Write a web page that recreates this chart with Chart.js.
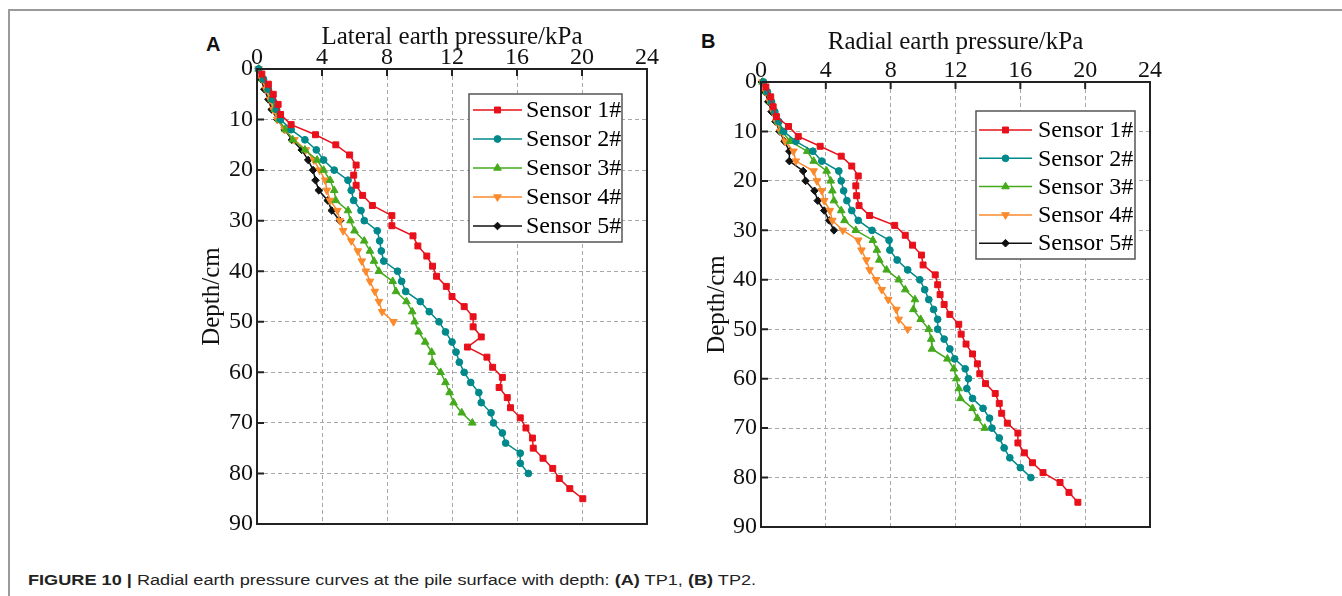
<!DOCTYPE html>
<html>
<head>
<meta charset="utf-8">
<script src="https://cdn.jsdelivr.net/npm/chart.js@4.4.1/dist/chart.umd.min.js"></script>
<style>
    body { margin: 0; background: #fff; width: 1342px; height: 596px; overflow: hidden; position: relative; }
    .frameTop { position: absolute; left: 8px; top: 9px; width: 1334px; border-top: 2px solid #9a9a9a; }
    .frameLeft { position: absolute; left: 8px; top: 9px; height: 587px; border-left: 2px solid #9a9a9a; }
    canvas { position: absolute; top: 0; }
    #chartA { left: 150px; }
    #chartB { left: 660px; }
    .letter { position: absolute; font: bold 20px "Liberation Sans", Arial, sans-serif; color: #111; }
    #caption { position: absolute; left: 28px; top: 571px; font: 15.5px "Liberation Sans", Arial, sans-serif; color: #222; white-space: nowrap; transform: scaleX(1.17); transform-origin: left top; }
</style>
</head>
<body>
<div class="frameTop"></div>
<div class="frameLeft"></div>
<div class="letter" style="left:206px; top:33px;">A</div>
<div class="letter" style="left:701px; top:30px;">B</div>
<canvas id="chartA" width="520" height="560"></canvas>
<canvas id="chartB" width="520" height="560"></canvas>
<div id="caption"><b>FIGURE 10 |</b> Radial earth pressure curves at the pile surface with depth: <b>(A)</b> TP1, <b>(B)</b> TP2.</div>

<script>
//Series labels
const sensorLabels = ['Sensor 1#', 'Sensor 2#', 'Sensor 3#', 'Sensor 4#', 'Sensor 5#'];

//Depth (cm) of the readings
const depthOdd85 = [1, 3, 5, 7, 9, 11, 13, 15, 17, 19, 21, 23, 25, 27, 29, 31, 33, 35, 37, 39,
    41, 43, 45, 47, 49, 51, 53, 55, 57, 59, 61, 63, 65, 67, 69, 71, 73, 75, 77, 79, 81, 83, 85];
const depth80 = [0, 2, 4, 6, 8, 10, 12, 14, 16, 18, 20, 22, 24, 26, 28, 30, 32, 34, 36, 38,
    40, 42, 44, 46, 48, 50, 52, 54, 56, 58, 60, 62, 64, 66, 68, 70, 72, 74, 76, 78, 80];
const depth70 = depth80.slice(0, 36);
const depth50 = depth80.slice(0, 26);
const depth30 = depth80.slice(0, 16);

//Panel A - lateral earth pressure (kPa)
const lateral1 = [0.3, 0.7, 1.0, 1.3, 1.45, 2.1, 3.6, 4.85, 5.7, 6.1, 5.95, 6.1, 6.5, 7.1, 8.3, 8.3, 9.6, 9.9, 10.45, 10.8,
    11.05, 11.65, 12.0, 12.75, 13.3, 13.3, 13.8, 12.95, 14.15, 14.5, 15.1, 14.9, 15.4, 15.6, 16.2, 16.55, 16.95, 17.0, 17.6, 18.2,
    18.6, 19.25, 20.05];
const lateral2 = [0.1, 0.4, 0.7, 0.95, 1.2, 1.45, 2.1, 2.95, 3.65, 4.1, 4.75, 5.6, 5.8, 5.95, 6.4, 6.6, 7.4, 7.55, 7.65, 7.8,
    8.65, 8.9, 9.15, 10.05, 10.6, 11.2, 11.6, 12.0, 12.25, 12.45, 12.75, 13.15, 13.65, 13.8, 14.4, 14.55, 15.1, 15.3, 16.2, 16.2,
    16.7];
const lateral3 = [0.1, 0.35, 0.65, 0.9, 1.1, 1.35, 1.75, 2.2, 2.95, 3.7, 4.1, 4.5, 4.75, 4.85, 5.6, 5.75, 6.0, 6.6, 6.95, 7.2,
    7.5, 8.35, 8.55, 9.2, 9.55, 9.7, 9.95, 10.35, 10.75, 10.8, 11.3, 11.6, 11.85, 12.1, 12.6, 13.25];
const lateral4 = [0.1, 0.3, 0.55, 0.8, 1.0, 1.25, 1.7, 2.3, 3.0, 3.5, 3.85, 4.2, 4.3, 4.5, 4.95, 5.1, 5.3, 5.8, 6.2, 6.45,
    6.7, 6.95, 7.25, 7.5, 7.7, 8.4];
const lateral5 = [0.1, 0.25, 0.45, 0.7, 0.9, 1.25, 1.7, 2.15, 2.75, 3.15, 3.45, 3.6, 3.8, 4.35, 4.6, 5.1];

//Panel B - radial earth pressure (kPa)
const radial1 = [0.3, 0.6, 0.75, 0.95, 1.7, 2.3, 3.65, 4.95, 5.6, 6.0, 5.85, 5.9, 6.05, 6.7, 8.25, 8.9, 9.35, 9.9, 10.0, 10.75,
    10.9, 11.05, 11.3, 11.65, 12.2, 12.35, 12.65, 13.05, 13.35, 13.5, 13.85, 14.45, 14.7, 14.85, 15.2, 15.85, 15.85, 16.25, 16.75, 17.4,
    18.45, 19.0, 19.55];
const radial2 = [0.15, 0.4, 0.65, 0.85, 1.1, 1.4, 2.15, 3.2, 3.75, 4.8, 4.95, 5.1, 5.3, 5.6, 6.0, 6.85, 7.9, 7.95, 8.4, 9.05,
    9.8, 10.1, 10.35, 10.65, 10.9, 10.9, 11.3, 11.65, 11.95, 12.6, 12.8, 12.7, 13.05, 13.7, 14.1, 14.25, 14.7, 15.0, 15.35, 16.0,
    16.65];
const radial3 = [0.1, 0.35, 0.6, 0.85, 1.05, 1.3, 1.8, 2.85, 3.25, 4.05, 4.3, 4.4, 4.5, 4.95, 5.15, 5.85, 6.9, 7.15, 7.3, 7.75,
    8.5, 8.9, 9.5, 9.4, 9.85, 10.35, 10.5, 10.55, 11.5, 11.9, 12.05, 12.2, 12.3, 13.05, 13.35, 13.8];
const radial4 = [0.1, 0.3, 0.55, 0.75, 0.95, 1.2, 1.5, 2.0, 2.15, 3.25, 3.45, 3.75, 3.9, 4.25, 4.4, 5.05, 6.0, 6.2, 6.5, 6.7,
    7.1, 7.45, 7.85, 8.35, 8.5, 9.05];
const radial5 = [0.05, 0.25, 0.45, 0.65, 0.9, 1.15, 1.45, 1.75, 1.75, 2.6, 2.75, 3.3, 3.5, 3.9, 4.2, 4.5];

//Axis ticks
const pressureTicks = [0, 4, 8, 12, 16, 20, 24];
const depthTicks = [0, 10, 20, 30, 40, 50, 60, 70, 80, 90];

//Marker look for each sensor
var sensorStyles = [
    { color: '#e8101a', pointStyle: 'rect', radius: 4.2, rotation: 0 },
    { color: '#00898b', pointStyle: 'circle', radius: 3.4, rotation: 0 },
    { color: '#44aa1c', pointStyle: 'triangle', radius: 4.4, rotation: 0 },
    { color: '#fb8a2c', pointStyle: 'triangle', radius: 4.4, rotation: 180 },
    { color: '#111111', pointStyle: 'rectRot', radius: 3.8, rotation: 0 }
];

Chart.defaults.font.family = '"Liberation Serif", "Times New Roman", serif';
Chart.defaults.color = '#111';

function toPoints (depth, pressure) {
    return depth.map(function (d, i) { return { x: pressure[i], y: d }; });
}

function buildDatasets (depths, values) {
    return values.map(function (v, i) {
        var s = sensorStyles[i];
        return {
            label: sensorLabels[i],
            data: toPoints(depths[i], v),
            borderColor: s.color,
            backgroundColor: s.color,
            pointBackgroundColor: s.color,
            pointBorderColor: s.color,
            pointStyle: s.pointStyle,
            pointRadius: s.radius,
            pointRotation: s.rotation,
            pointBorderWidth: 1,
            borderWidth: 1.5,
            fill: false,
            tension: 0,
            clip: false
        };
    });
}

//Inward tick marks and the closed plot frame
const frameTicks = {
    id: 'frameTicks',
    afterDatasetsDraw (chart) {
        const { ctx, chartArea: a, scales } = chart;
        ctx.save();
        ctx.strokeStyle = '#222';
        ctx.lineWidth = 2;
        ctx.beginPath();
        scales.x.ticks.forEach(function (t) {
            var px = scales.x.getPixelForValue(t.value);
            ctx.moveTo(px, a.top);
            ctx.lineTo(px, a.top + 7);
        });
        scales.y.ticks.forEach(function (t) {
            var py = scales.y.getPixelForValue(t.value);
            ctx.moveTo(a.left, py);
            ctx.lineTo(a.left + 7, py);
        });
        ctx.stroke();
        ctx.strokeRect(a.left, a.top, a.width, a.height);
        ctx.restore();
    }
};

//Legend box inside the plot
const insideLegend = {
    id: 'insideLegend',
    afterDraw (chart, args, o) {
        const ctx = chart.ctx;
        const a = chart.chartArea;
        const x0 = a.left + o.left;
        const y0 = a.top + o.top;
        ctx.save();
        ctx.fillStyle = '#fff';
        ctx.fillRect(x0, y0, o.width, o.height);
        ctx.strokeStyle = '#555';
        ctx.lineWidth = 1.5;
        ctx.strokeRect(x0, y0, o.width, o.height);
        ctx.font = '24px "Liberation Serif", serif';
        ctx.textBaseline = 'middle';
        chart.data.datasets.forEach(function (ds, i) {
            var y = y0 + o.firstRow + i * o.rowGap;
            ctx.strokeStyle = ds.borderColor;
            ctx.lineWidth = ds.borderWidth;
            ctx.beginPath();
            ctx.moveTo(x0 + o.lineStart, y);
            ctx.lineTo(x0 + o.lineEnd, y);
            ctx.stroke();
            ctx.fillStyle = ds.pointBackgroundColor;
            ctx.lineWidth = 1;
            Chart.helpers.drawPoint(ctx, {
                pointStyle: ds.pointStyle,
                rotation: ds.pointRotation,
                radius: ds.pointRadius,
                borderWidth: 1
            }, x0 + (o.lineStart + o.lineEnd) / 2, y);
            ctx.fillStyle = '#000';
            ctx.fillText(ds.label, x0 + o.textStart, y + 1);
        });
        ctx.restore();
    }
};

function makePanel (canvasId, xTitle, depths, values, box) {
    return new Chart(document.getElementById(canvasId), {
        type: 'line',
        data: { datasets: buildDatasets(depths, values) },
        options: {
            responsive: false,
            animation: false,
            devicePixelRatio: 1,
            layout: { padding: { left: 0, top: 0, right: box.right, bottom: box.bottom } },
            plugins: {
                legend: { display: false },
                tooltip: { enabled: false },
                insideLegend: box.legend
            },
            scales: {
                x: {
                    type: 'linear',
                    position: 'top',
                    min: pressureTicks[0],
                    max: pressureTicks[pressureTicks.length - 1],
                    afterBuildTicks: function (scale) { scale.ticks = pressureTicks.map(function (v) { return { value: v }; }); },
                    afterFit: function (scale) { scale.height = box.xHeight; },
                    ticks: { font: { size: 24 }, padding: -3, color: '#111' },
                    grid: { color: '#a8a8a8', lineWidth: 1, drawTicks: false },
                    border: { display: false, dash: [4, 3] },
                    title: { display: true, text: xTitle, font: { size: 25, lineHeight: 1.2 }, color: '#111', padding: { top: box.xTitlePad, bottom: 0 } }
                },
                y: {
                    type: 'linear',
                    reverse: true,
                    min: depthTicks[0],
                    max: depthTicks[depthTicks.length - 1],
                    afterBuildTicks: function (scale) { scale.ticks = depthTicks.map(function (v) { return { value: v }; }); },
                    afterFit: function (scale) { scale.width = box.yWidth; },
                    ticks: { font: { size: 24 }, padding: 4, color: '#111' },
                    grid: { color: '#a8a8a8', lineWidth: 1, drawTicks: false },
                    border: { display: false, dash: [4, 3] },
                    title: { display: true, text: 'Depth/cm', font: { size: 25, lineHeight: 1.2 }, color: '#111', padding: { top: box.yTitlePad, bottom: 0 } }
                }
            }
        },
        plugins: [frameTicks, insideLegend]
    });
}

var panelDepths = [depthOdd85, depth80, depth70, depth50, depth30];

var lateralChart = makePanel('chartA', 'Lateral earth pressure/kPa', panelDepths,
    [lateral1, lateral2, lateral3, lateral4, lateral5],
    {
        right: 23, bottom: 36, xHeight: 69, yWidth: 107, xTitlePad: 22, yTitlePad: 47,
        legend: { left: 212, top: 25, width: 153, height: 148, firstRow: 16, rowGap: 29, lineStart: 4, lineEnd: 53, textStart: 57 }
    });

var radialChart = makePanel('chartB', 'Radial earth pressure/kPa', panelDepths,
    [radial1, radial2, radial3, radial4, radial5],
    {
        right: 30, bottom: 33, xHeight: 82, yWidth: 101, xTitlePad: 27, yTitlePad: 42,
        legend: { left: 215, top: 29, width: 159, height: 148, firstRow: 19, rowGap: 28.3, lineStart: 3, lineEnd: 56, textStart: 62 }
    });
</script>
</body>
</html>
